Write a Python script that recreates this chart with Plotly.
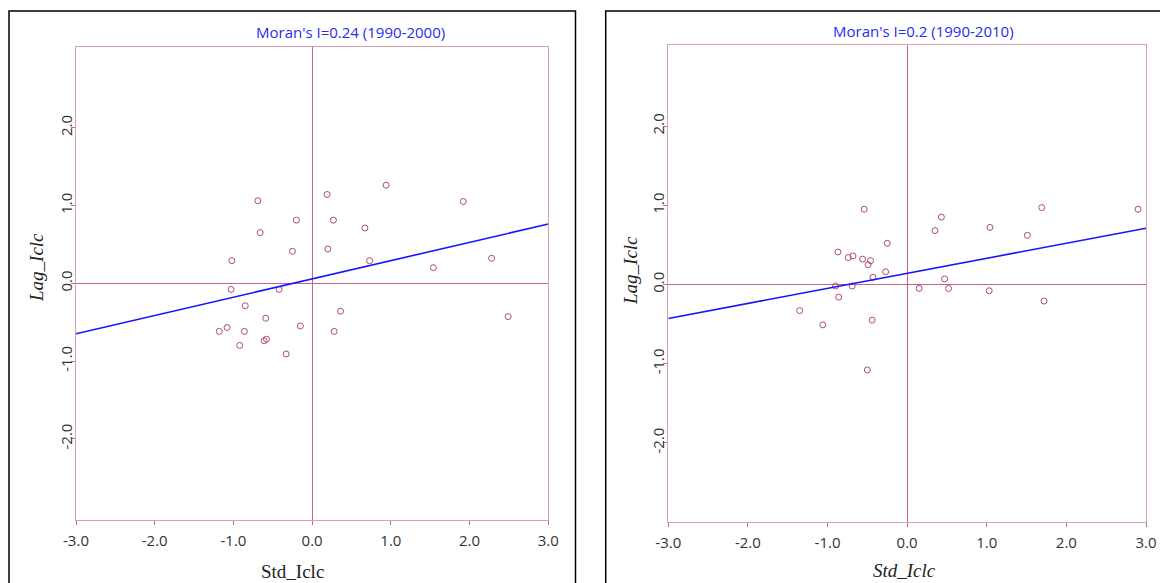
import plotly.graph_objects as go

W, H = 1168, 583
OFF = 8  # default body margin of the html page

# ---- data ----
left_x = [-0.69, -0.20, -0.66, -0.25, -1.02, -1.03, -0.42, -0.85, -0.59, -0.15,
          -1.18, -1.08, -0.86, -0.61, -0.58, -0.92, -0.33, 0.19, 0.94, 1.92,
          0.27, 0.67, 0.20, 0.73, 1.54, 2.28, 0.36, 0.28, 2.49]
left_y = [1.06, 0.81, 0.65, 0.41, 0.29, -0.08, -0.08, -0.29, -0.45, -0.55,
          -0.62, -0.57, -0.62, -0.74, -0.72, -0.80, -0.91, 1.14, 1.26, 1.05,
          0.81, 0.71, 0.44, 0.29, 0.20, 0.32, -0.36, -0.62, -0.43]

right_x = [-0.54, -0.25, -0.87, -0.74, -0.68, -0.56, -0.46, -0.49, -0.27, -0.43,
           -0.90, -0.69, -0.86, -1.35, -1.06, -0.44, -0.50, 0.15, 0.43, 0.35,
           1.04, 1.69, 1.51, 2.90, 0.47, 0.52, 1.03, 1.72]
right_y = [0.95, 0.52, 0.41, 0.34, 0.36, 0.32, 0.30, 0.25, 0.16, 0.09,
           -0.02, -0.02, -0.16, -0.33, -0.51, -0.45, -1.08, -0.05, 0.85, 0.68,
           0.72, 0.97, 0.62, 0.95, 0.07, -0.05, -0.08, -0.21]

left_slope, left_intercept = 0.235, 0.055
right_slope, right_intercept = 0.19, 0.14

left_title = "Moran's I=0.24 (1990-2000)"
right_title = "Moran's I=0.2 (1990-2010)"
x_label = "Std_Iclc"
y_label = "Lag_Iclc"

x_ticks = [-3, -2, -1, 0, 1, 2, 3]
y_ticks = [-2, -1, 0, 1, 2]
x_range = [-3, 3]

# ---- styling ----
FRAME = "#d99fb3"
ZERO = "#c76587"
POINT = "#b04c6c"
LINE = "#1414ff"
TICKFONT = dict(family="Open Sans, Noto Sans, sans-serif", size=15, color="#333333")


def px(x):
    return (x - OFF) / W


def py(y):
    return 1 - (y - OFF) / H


fig = go.Figure()

fig.add_trace(go.Scatter(x=left_x, y=left_y, mode="markers", xaxis="x", yaxis="y",
                         marker=dict(symbol="circle-open", size=6, color=POINT,
                                     line=dict(width=1, color=POINT)),
                         showlegend=False))
fig.add_trace(go.Scatter(x=x_range, y=[left_intercept + left_slope * v for v in x_range],
                         mode="lines", xaxis="x", yaxis="y",
                         line=dict(color=LINE, width=1.6), showlegend=False))

fig.add_trace(go.Scatter(x=right_x, y=right_y, mode="markers", xaxis="x2", yaxis="y2",
                         marker=dict(symbol="circle-open", size=6, color=POINT,
                                     line=dict(width=1, color=POINT)),
                         showlegend=False))
fig.add_trace(go.Scatter(x=x_range, y=[right_intercept + right_slope * v for v in x_range],
                         mode="lines", xaxis="x2", yaxis="y2",
                         line=dict(color=LINE, width=1.6), showlegend=False))

common_x = dict(range=x_range, tickvals=x_ticks, ticktext=[f"{v:.1f}" for v in x_ticks],
                showline=True, mirror=True, linecolor=FRAME, linewidth=1.3,
                ticks="outside", ticklen=4, tickcolor=ZERO, tickwidth=1,
                showgrid=False, zeroline=True, zerolinecolor=ZERO, zerolinewidth=1.2,
                tickfont=TICKFONT, automargin=False, ticklabelstandoff=3)
common_y = dict(tickvals=y_ticks, ticktext=[f"{v:.1f}" for v in y_ticks],
                showline=True, mirror=True, linecolor=FRAME, linewidth=1.3,
                ticks="outside", ticklen=4, tickcolor=ZERO, tickwidth=1,
                showgrid=False, zeroline=True, zerolinecolor=ZERO, zerolinewidth=1.2,
                tickfont=TICKFONT, tickangle=-90, automargin=False, ticklabelstandoff=-7)

ann_font_title = dict(family="Open Sans, Noto Sans, sans-serif", size=15, color="#2a2af2")
ann_font_axis = dict(family="Liberation Serif, serif", size=19, color="#222222")

fig.update_layout(
    width=W, height=H,
    margin=dict(l=0, r=0, t=0, b=0, autoexpand=False),
    paper_bgcolor="white", plot_bgcolor="white",
    xaxis=dict(domain=[px(76), px(548.3)], anchor="y", **common_x),
    yaxis=dict(domain=[py(519.7), py(46.7)], anchor="x", range=[-3.04, 3.04], **common_y),
    xaxis2=dict(domain=[px(668.3), px(1146)], anchor="y2", **common_x),
    yaxis2=dict(domain=[py(522), py(45.3)], anchor="x2", range=[-3.0, 3.02], **common_y),
    shapes=[
        dict(type="rect", xref="paper", yref="paper", x0=px(9), x1=px(575.5),
             y0=-0.05, y1=py(11), line=dict(color="black", width=1.5)),
        dict(type="rect", xref="paper", yref="paper", x0=px(605.7), x1=1.05,
             y0=-0.05, y1=py(11), line=dict(color="black", width=1.5)),
    ],
    annotations=[
        dict(text=left_title, x=px(350), y=py(32), xref="paper", yref="paper",
             xanchor="center", yanchor="middle", showarrow=False, font=ann_font_title),
        dict(text=right_title, x=px(923), y=py(31), xref="paper", yref="paper",
             xanchor="center", yanchor="middle", showarrow=False, font=ann_font_title),
        dict(text=x_label, x=px(292), y=py(571), xref="paper", yref="paper",
             xanchor="center", yanchor="middle", showarrow=False, font=ann_font_axis),
        dict(text=f"<i>{x_label}</i>", x=px(904), y=py(570), xref="paper", yref="paper",
             xanchor="center", yanchor="middle", showarrow=False, font=ann_font_axis),
        dict(text=f"<i>{y_label}</i>", x=px(36), y=py(268), xref="paper", yref="paper",
             xanchor="center", yanchor="middle", showarrow=False, textangle=-90,
             font=ann_font_axis),
        dict(text=f"<i>{y_label}</i>", x=px(630), y=py(271), xref="paper", yref="paper",
             xanchor="center", yanchor="middle", showarrow=False, textangle=-90,
             font=ann_font_axis),
    ],
)

fig.write_html("out.html")
